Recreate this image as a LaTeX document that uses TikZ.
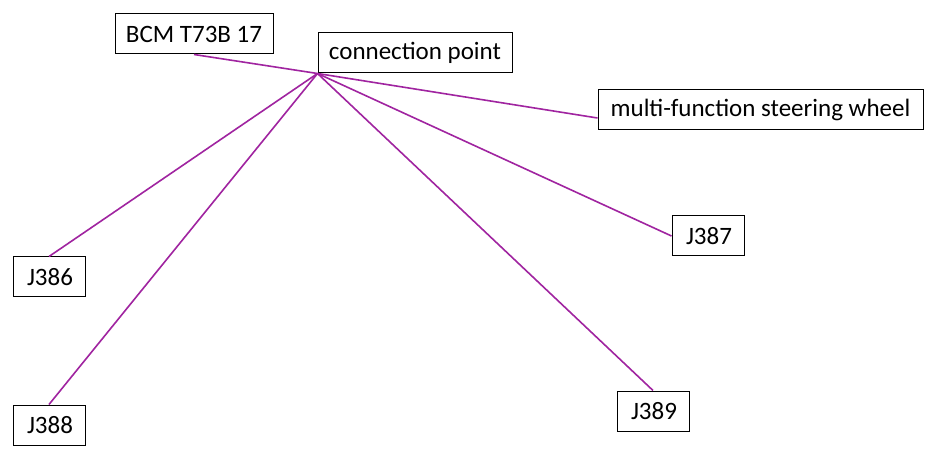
\documentclass[tikz,border=0pt]{standalone}
\usepackage{fontspec}
\setmainfont{Carlito}
\usetikzlibrary{calc}
\definecolor{wire}{RGB}{160,36,160}
\tikzset{
  box/.style={draw=black, line width=1pt, fill=white, inner sep=0pt, font=\fontsize{25}{29}\selectfont, minimum height=40pt, anchor=center},
  wireline/.style={draw=wire, line width=1.6pt}
}
\begin{document}
\begin{tikzpicture}[x=1pt,y=-1pt]
\useasboundingbox (0,0) rectangle (927,457);
\fill[white] (0,0) rectangle (927,457);
\node[box, minimum width=158pt] (bcm) at (194,34) {BCM T73B 17};
\node[box, minimum width=194pt] (cp) at (415,53) {connection point};
\node[box, minimum width=325pt] (mfsw) at (760.5,109.5) {multi-function steering wheel};
\node[box, minimum width=72pt] (j387) at (708,236) {\hspace{2pt}J387};
\node[box, minimum width=72pt] (j386) at (49,277) {\hspace{2pt}J386};
\node[box, minimum width=72pt] (j388) at (49,425) {\hspace{2pt}J388};
\node[box, minimum width=72pt] (j389) at (653,411) {\hspace{2pt}J389};
\coordinate (hub) at (cp.south west);
\draw[wireline] (bcm.south) -- (hub);
\draw[wireline] (hub) -- ($(mfsw.west)+(0,8.5)$);
\draw[wireline] (hub) -- (j387.west);
\draw[wireline] (hub) -- (j386.north);
\draw[wireline] (hub) -- (j388.north);
\draw[wireline] (hub) -- (j389.north);
\end{tikzpicture}
\end{document}
